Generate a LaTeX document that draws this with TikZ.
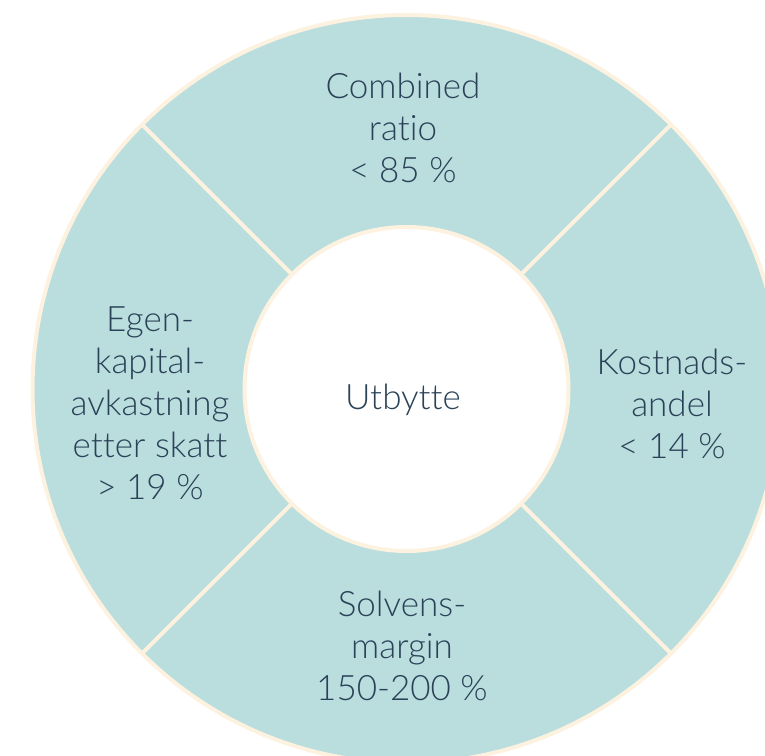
\documentclass[tikz,border=0pt]{standalone}
\usepackage{fontspec}
\setmainfont{Lato Light}[RawFeature=-liga]
\usepackage{xcolor}
\usepackage{tikz}
\usetikzlibrary{positioning, calc}
\definecolor{tealRing}{HTML}{BADDDE}
\definecolor{creamLine}{HTML}{FCF2DF}
\definecolor{navyText}{HTML}{2A4257}
\tikzset{ring-line/.style={draw=creamLine, line width=4pt}}
\tikzset{ring-label/.style={align=center, text=navyText, inner sep=0, font=\fontsize{35}{42}\selectfont}}
\begin{document}
\begin{tikzpicture}[x=1pt, y=-1pt]
    \useasboundingbox (0,0) rectangle (765,755);
    \coordinate (centre) at (406.5,389);

    % ring
    \fill[tealRing] (centre) circle (374pt);
    \draw[ring-line] (centre) circle (374pt);
    \foreach \a in {45,135,225,315} {
        \draw[ring-line] ($(centre)+(\a:162pt)$) -- ($(centre)+(\a:374pt)$);
    }
    \fill[white] (centre) circle (162pt);
    \draw[ring-line] (centre) circle (162pt);

    % labels
    \node[ring-label] (utbytte) at (403,400) {Utbytte};
    \node[ring-label] (combined) at (403,128) {Combined\\ratio\\< 85 \%};
    \node[ring-label] (kostnad) at (672,404) {Kostnads-\\andel\\< 14 \%};
    \node[ring-label] (solvens) at (402,646) {Solvens-\\margin\\150-200 \%};
    \node[ring-label] (egenkap) at (150,403) {Egen-\\kapital-\\avkastning\\etter skatt\\> 19 \%};
\end{tikzpicture}
\end{document}
